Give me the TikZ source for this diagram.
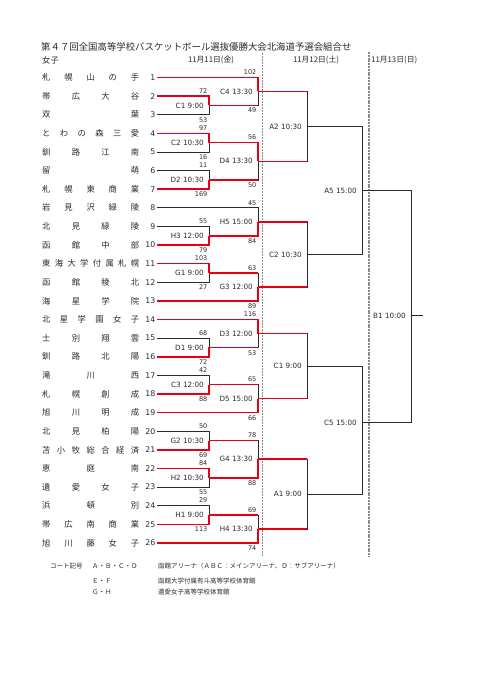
\documentclass[tikz,border=0pt]{standalone}
\usepackage{fontspec}
\setmainfont{Noto Sans CJK JP}
\newfontfamily\lat{DejaVu Sans}
\definecolor{wred}{HTML}{E60012}
\definecolor{ink}{HTML}{2B2B2B}
\definecolor{dayc}{HTML}{8C8C8C}
\makeatletter
\def\sp@x#1#2{#1\ifx\relax#2\else\hfil\expandafter\sp@x\expandafter#2\fi}
\newcommand\spreadname[1]{\hbox to 97pt{\sp@x#1\relax}}
\makeatother
\newcommand\ry[1]{77.5+18.62*(#1-1)}
\tikzset{
  lose/.style={draw=ink, line width=0.8pt},
  win/.style={draw=wred, line width=1.5pt},
  tname/.style={font=\fontsize{8.3}{9}\selectfont, text=ink, inner sep=0pt},
  tnum/.style={font=\lat\fontsize{7.8}{8}\selectfont, text=ink, inner sep=0pt},
  mlabel/.style={font=\lat\fontsize{7.2}{8}\selectfont, text=ink, anchor=east, inner sep=0pt},
  st/.style={font=\lat\fontsize{6.5}{7}\selectfont, text=ink, anchor=south east, inner sep=0pt},
  sb/.style={font=\lat\fontsize{6.5}{7}\selectfont, text=ink, anchor=north east, inner sep=0pt},
  dayf/.style={font=\fontsize{7.8}{9}\selectfont, text=ink, inner sep=0pt},
  foot/.style={font=\fontsize{6.5}{7}\selectfont, text=ink, inner sep=0pt, anchor=west},
  dayl/.style={draw=dayc, line width=0.6pt, dash pattern=on 2pt off 1pt},
  dayl2/.style={draw=dayc, line width=1.1pt, dash pattern=on 2pt off 0.8pt},
}
\newcommand\team[2]{%
  \node[tname, anchor=west] (t#1) at (42,{\ry{#1}}) {\spreadname{#2}};
  \node[tnum, anchor=east] (k#1) at (155.5,{\ry{#1}}) {#1};
  \coordinate (s#1) at (157,{\ry{#1}});
}
\begin{document}
\begin{tikzpicture}[x=1pt,y=-1pt]
\fill[white] (0,0) rectangle (481,680);
\useasboundingbox (0,0) rectangle (481,680);

% title and headers
\node[anchor=west, inner sep=0pt, text=ink, font=\fontsize{9.4}{10}\selectfont] (title) at (41,47)
  {第４７回全国高等学校バスケットボール選抜優勝大会北海道予選会組合せ};
\node[tname, anchor=west] (girls) at (42,60) {女子};
\node[dayf] (d1) at (211,60) {11月11日(金)};
\node[dayf] (d2) at (316,60) {11月12日(土)};
\node[dayf, anchor=west] (d3) at (371,60) {11月13日(日)};

% day separators
\coordinate (sepAt) at (262,53); \coordinate (sepAb) at (262,557);
\coordinate (sepBt) at (369,52); \coordinate (sepBb) at (369,557);
\draw[dayl] (sepAt) -- (sepAb);
\draw[dayl2] (sepBt) -- (sepBb);

% teams
\team{1}{札幌山の手}
\team{2}{帯広大谷}
\team{3}{双葉}
\team{4}{とわの森三愛}
\team{5}{釧路江南}
\team{6}{留萌}
\team{7}{札幌東商業}
\team{8}{岩見沢緑陵}
\team{9}{北見緑陵}
\team{10}{函館中部}
\team{11}{東海大学付属札幌}
\team{12}{函館稜北}
\team{13}{海星学院}
\team{14}{北星学園女子}
\team{15}{士別翔雲}
\team{16}{釧路北陽}
\team{17}{滝川西}
\team{18}{札幌創成}
\team{19}{旭川明成}
\team{20}{北見柏陽}
\team{21}{苫小牧総合経済}
\team{22}{恵庭南}
\team{23}{遺愛女子}
\team{24}{浜頓別}
\team{25}{帯広南商業}
\team{26}{旭川藤女子}

% match points
\coordinate (rC1) at (209,105.43);
\coordinate (rC2) at (209,142.67);
\coordinate (rD2) at (209,179.91);
\coordinate (rH3) at (209,235.77);
\coordinate (rG1) at (209,273.01);
\coordinate (rD1) at (209,347.49);
\coordinate (rC3) at (209,384.73);
\coordinate (rG2) at (209,440.59);
\coordinate (rH2) at (209,477.83);
\coordinate (rH1) at (209,515.07);
\coordinate (qC4) at (258,91.47);
\coordinate (qD4) at (258,161.29);
\coordinate (qH5) at (258,221.81);
\coordinate (qG3) at (258,286.98);
\coordinate (qD3) at (258,333.53);
\coordinate (qD5) at (258,398.70);
\coordinate (qG4) at (258,459.21);
\coordinate (qH4) at (258,529.04);
\coordinate (pA2) at (307,126.38);
\coordinate (pC2) at (307,254.40);
\coordinate (pC1) at (307,366.12);
\coordinate (pA1) at (307,494.13);
\coordinate (oA5) at (362,190.39);
\coordinate (oC5) at (362,422.5);
\coordinate (fB1) at (411,315.5);
\coordinate (fin) at (423,315.5);

% black layer
\foreach \a/\b in {s3/rC1, s5/rC2, s6/rD2, s9/rH3, s12/rG1, s15/rD1, s17/rC3, s20/rG2, s23/rH2, s24/rH1,
  rC1/qC4, rD2/qD4, s8/qH5, rG1/qG3, rD1/qD3, rC3/qD5, rG2/qG4, rH1/qH4,
  qC4/pA2, qD4/pA2, qH5/pC2, qG3/pC2, qD3/pC1, qD5/pC1, qG4/pA1, qH4/pA1,
  pA2/oA5, pC2/oA5, pC1/oC5, pA1/oC5, oA5/fB1, oC5/fB1}
  \draw[lose] (\a) -| (\b);
\draw[lose] (fB1) -- (fin);

% red layer
\foreach \a/\b in {s2/rC1, s4/rC2, s7/rD2, s10/rH3, s11/rG1, s16/rD1, s18/rC3, s21/rG2, s22/rH2, s25/rH1,
  s1/qC4, rC2/qD4, rH3/qH5, s13/qG3, s14/qD3, s19/qD5, rH2/qG4, s26/qH4}
  \draw[win] (\a) -| (\b);
\foreach \a/\b in {rC1/qC4, rD2/qD4, rG1/qG3, rD1/qD3, rC3/qD5, rG2/qG4, rH1/qH4,
  qC4/pA2, qD4/pA2, qH5/pC2, qG3/pC2, qD3/pC1, qD5/pC1, qG4/pA1, qH4/pA1}
  \draw[win] (\a) -- (\a -| \b);

% match labels
\node[mlabel] (lC1) at (204,105.43) {C1 9:00};
\node[mlabel] (lC2) at (204,142.67) {C2 10:30};
\node[mlabel] (lD2) at (204,179.91) {D2 10:30};
\node[mlabel] (lH3) at (204,235.77) {H3 12:00};
\node[mlabel] (lG1) at (204,273.01) {G1 9:00};
\node[mlabel] (lD1) at (204,347.49) {D1 9:00};
\node[mlabel] (lC3) at (204,384.73) {C3 12:00};
\node[mlabel] (lG2) at (204,440.59) {G2 10:30};
\node[mlabel] (lH2) at (204,477.83) {H2 10:30};
\node[mlabel] (lH1) at (204,515.07) {H1 9:00};
\node[mlabel] (lC4) at (253,91.47) {C4 13:30};
\node[mlabel] (lD4) at (253,161.29) {D4 13:30};
\node[mlabel] (lH5) at (253,221.81) {H5 15:00};
\node[mlabel] (lG3) at (253,286.98) {G3 12:00};
\node[mlabel] (lD3) at (253,333.53) {D3 12:00};
\node[mlabel] (lD5) at (253,398.70) {D5 15:00};
\node[mlabel] (lG4) at (253,459.21) {G4 13:30};
\node[mlabel] (lH4) at (253,529.04) {H4 13:30};
\node[mlabel] (lA2) at (302,126.38) {A2 10:30};
\node[mlabel] (lC2b) at (302,254.40) {C2 10:30};
\node[mlabel] (lC1b) at (302,366.12) {C1 9:00};
\node[mlabel] (lA1) at (302,494.13) {A1 9:00};
\node[mlabel] (lA5) at (357,190.39) {A5 15:00};
\node[mlabel] (lC5) at (357,422.5) {C5 15:00};
\node[mlabel] (lB1) at (406,315.5) {B1 10:00};

% round 1 scores
\node[st] (a2) at (207.5,{\ry{2}-2.5}) {72};
\node[sb] (a3) at (207.5,{\ry{3}+2.5}) {53};
\node[st] (a4) at (207.5,{\ry{4}-2.5}) {97};
\node[sb] (a5) at (207.5,{\ry{5}+2.5}) {16};
\node[st] (a6) at (207.5,{\ry{6}-2.5}) {11};
\node[sb] (a7) at (207.5,{\ry{7}+2.5}) {169};
\node[st] (a9) at (207.5,{\ry{9}-2.5}) {55};
\node[sb] (a10) at (207.5,{\ry{10}+2.5}) {79};
\node[st] (a11) at (207.5,{\ry{11}-2.5}) {103};
\node[sb] (a12) at (207.5,{\ry{12}+2.5}) {27};
\node[st] (a15) at (207.5,{\ry{15}-2.5}) {68};
\node[sb] (a16) at (207.5,{\ry{16}+2.5}) {72};
\node[st] (a17) at (207.5,{\ry{17}-2.5}) {42};
\node[sb] (a18) at (207.5,{\ry{18}+2.5}) {88};
\node[st] (a20) at (207.5,{\ry{20}-2.5}) {50};
\node[sb] (a21) at (207.5,{\ry{21}+2.5}) {69};
\node[st] (a22) at (207.5,{\ry{22}-2.5}) {84};
\node[sb] (a23) at (207.5,{\ry{23}+2.5}) {55};
\node[st] (a24) at (207.5,{\ry{24}-2.5}) {29};
\node[sb] (a25) at (207.5,{\ry{25}+2.5}) {113};

% round 2 scores
\node[st] (b1) at (256.5,{\ry{1}-2.5}) {102};
\node[sb] (b2) at (256.5,107.93) {49};
\node[st] (b3) at (256.5,140.17) {56};
\node[sb] (b4) at (256.5,182.41) {50};
\node[st] (b5) at (256.5,{\ry{8}-2.5}) {45};
\node[sb] (b6) at (256.5,238.27) {84};
\node[st] (b7) at (256.5,270.51) {63};
\node[sb] (b8) at (256.5,{\ry{13}+2.5}) {89};
\node[st] (b9) at (256.5,{\ry{14}-2.5}) {116};
\node[sb] (b10) at (256.5,349.99) {53};
\node[st] (b11) at (256.5,382.23) {65};
\node[sb] (b12) at (256.5,{\ry{19}+2.5}) {66};
\node[st] (b13) at (256.5,438.09) {78};
\node[sb] (b14) at (256.5,480.33) {88};
\node[st] (b15) at (256.5,512.57) {69};
\node[sb] (b16) at (256.5,{\ry{26}+2.5}) {74};

% footer
\node[foot] (f1) at (50,566) {コート記号};
\node[foot] (f2) at (92,566) {Ａ・Ｂ・Ｃ・Ｄ};
\node[foot] (f3) at (92,581) {Ｅ・Ｆ};
\node[foot] (f4) at (92,592) {Ｇ・Ｈ};
\node[foot] (f5) at (158,566) {函館アリーナ（ＡＢＣ：メインアリーナ、Ｄ：サブアリーナ）};
\node[foot] (f6) at (158,581) {函館大学付属有斗高等学校体育館};
\node[foot] (f7) at (158,592) {遺愛女子高等学校体育館};
\end{tikzpicture}
\end{document}
